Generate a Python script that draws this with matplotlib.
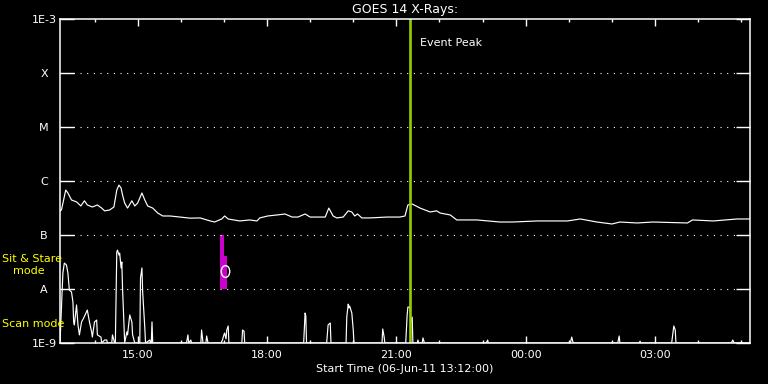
import pandas as pd
import matplotlib
matplotlib.use("Agg")
import matplotlib.pyplot as plt
import matplotlib.dates as mdates
from matplotlib.path import Path
from matplotlib.transforms import Affine2D

# --- data ---
START = pd.Timestamp("2011-06-06 13:12")
SPAN_H = 16

# GOES 14 long channel, minutes after START and flux (W/m^2)
goes_min = [0, 2, 8, 11, 16, 23, 29, 34, 38, 45,
            52, 58, 62, 69, 75, 79, 82, 85, 87, 90,
            94, 100, 104, 108, 114, 118, 122, 129, 136, 143,
            153, 167, 181, 195, 209, 215, 225, 229, 234, 250,
            264, 274, 278, 289, 302, 313, 323, 331, 341, 348,
            362, 369, 374, 380, 385, 394, 401, 406, 410, 414,
            420, 431, 455, 473, 480, 484, 490, 501, 515, 524,
            529, 543, 552, 580, 612, 630, 664, 706, 724, 747,
            768, 779, 803, 825, 873, 880, 909, 942, 960]
goes_flux = [2.8e-7, 2.9e-7, 6.8e-7, 6.0e-7, 4.45e-7, 4.1e-7, 3.45e-7, 4.3e-7, 3.6e-7, 3.3e-7,
             3.6e-7, 3.15e-7, 2.8e-7, 2.9e-7, 3.3e-7, 6.8e-7, 8.4e-7, 7.4e-7, 5.5e-7, 3.9e-7,
             3.15e-7, 4.3e-7, 3.45e-7, 3.9e-7, 6.0e-7, 4.45e-7, 3.45e-7, 3.15e-7, 2.55e-7, 2.25e-7,
             2.25e-7, 2.15e-7, 2.05e-7, 2.07e-7, 1.82e-7, 1.74e-7, 1.98e-7, 2.25e-7, 1.98e-7, 1.82e-7,
             1.90e-7, 1.82e-7, 2.07e-7, 2.25e-7, 2.35e-7, 2.45e-7, 2.15e-7, 2.15e-7, 2.45e-7, 2.15e-7,
             2.15e-7, 2.15e-7, 3.15e-7, 2.25e-7, 2.07e-7, 2.15e-7, 2.8e-7, 2.67e-7, 2.25e-7, 2.45e-7,
             2.07e-7, 2.07e-7, 2.15e-7, 2.15e-7, 2.25e-7, 3.6e-7, 3.75e-7, 3.15e-7, 2.67e-7, 2.8e-7,
             2.55e-7, 2.35e-7, 1.90e-7, 1.90e-7, 1.74e-7, 1.74e-7, 1.82e-7, 1.82e-7, 1.98e-7, 1.74e-7,
             1.60e-7, 1.74e-7, 1.67e-7, 1.74e-7, 1.67e-7, 1.90e-7, 1.82e-7, 1.98e-7, 1.98e-7]

# observation activity trace (arbitrary units, 0..12 over the panel)
scan_min = [0, 1, 4, 6, 9, 11, 13, 16, 18, 19, 20, 22, 23, 25, 27, 30, 33, 36, 38, 41,
            44, 45, 48, 51, 52, 57, 58, 62, 65, 66, 72, 73, 76, 77, 79, 80, 82, 83, 85, 86,
            87, 89, 90, 93, 94, 97, 100, 101, 104, 111, 112, 114, 115, 118, 119, 125, 126, 127, 128, 129,
            176, 178, 179, 182, 183, 196, 197, 199, 203, 204, 206, 224, 226, 228, 229, 231, 232, 234, 235, 253,
            254, 256, 257, 339, 341, 342, 343, 371, 373, 376, 377, 398, 399, 401, 402, 403, 405, 406, 408, 409,
            448, 449, 451, 452, 481, 483, 484, 487, 488, 490, 491, 497, 498, 499, 504, 505, 507, 593, 595, 596,
            710, 712, 714, 776, 778, 779, 806, 807, 808, 851, 853, 854, 856, 857, 934, 936, 938, 960]
scan_val = [0, 0.67, 2.59, 2.96, 2.89, 2.59, 1.96, 1.89, 1.52, 0.78, 0.67, 1.15, 1.41, 0.67, 0.30, 0.78, 0.93, 1.11, 1.22, 0.78,
            0.41, 0.22, 0.78, 0.85, 0.30, 0.22, 0, 0.11, 0.11, 0, 0, 0.30, 0, 0, 3.37, 3.44, 3.26, 3.33, 2.78, 3.0,
            2.04, 0.74, 0, 0.41, 0.30, 1.04, 0.78, 0.30, 0, 0, 2.41, 2.78, 1.89, 0.56, 0, 0.11, 0, 0, 0.78, 0,
            0, 0.30, 0, 0.11, 0, 0, 0.48, 0, 0, 0.26, 0, 0, 0.11, 0.30, 0.37, 0.15, 0.48, 0.63, 0, 0,
            0.48, 0.44, 0, 0, 1.11, 1.0, 0, 0, 0.67, 0.74, 0, 0, 0.96, 1.44, 1.30, 1.37, 1.19, 1.11, 0.48, 0,
            0, 0.52, 0.22, 0, 0, 1.04, 1.33, 1.33, 0.74, 0.96, 0, 0, 0.11, 0, 0, 0.19, 0, 0, 0.11, 0,
            0, 0.22, 0, 0, 0.26, 0, 0, 0.07, 0, 0, 0.41, 0.63, 0.48, 0, 0, 0.11, 0, 0]

# sit & stare block (minutes after START) and its flux range
stare_start = [222, 228]
stare_end = [228, 232]
stare_top = [1e-7, 4.1e-8]
stare_bottom = 1e-8
stare_mark_min = 230
stare_mark_flux = 2.15e-8

peak_min = 487

levels = [1e-9, 1e-8, 1e-7, 1e-6, 1e-5, 1e-4, 1e-3]
level_labels = ["1E-9", "A", "B", "C", "M", "X", "1E-3"]
grid_levels = [1e-8, 1e-7, 1e-6, 1e-5, 1e-4]


def t(minutes):
    return START + pd.to_timedelta(minutes, unit="min")


plt.rcParams['font.family'] = ['DejaVu Sans']
fig = plt.figure(figsize=(7.68, 3.84), dpi=100, facecolor="black")
ax = fig.add_axes([60 / 768, 41 / 384, 690 / 768, 324 / 384])
ax2 = ax.twinx()
ax.set_zorder(ax2.get_zorder() + 1)
ax.patch.set_visible(False)
ax2.patch.set_facecolor("black")

# activity trace underneath
ax2.plot(t(scan_min), scan_val, color="white", lw=0.85)
ax2.set_ylim(0, 12)
ax2.set_yticks([])
for s in ax2.spines.values():
    s.set_visible(False)

ax.set_yscale("log")
ax.set_ylim(1e-9, 1e-3)
ax.set_xlim(t(0), t(SPAN_H * 60))

for lv in grid_levels:
    ax.axhline(lv, color="white", lw=0.8, ls=(0, (1, 5)))

ax.plot(t(goes_min), goes_flux, color="white", lw=0.85)

for s, e, top in zip(stare_start, stare_end, stare_top):
    ax.fill_between([t(s), t(e)], stare_bottom, top, color="#cc00cc", lw=0)
ell = Path.unit_circle().transformed(Affine2D().scale(0.72, 1.0))
ax.plot([t(stare_mark_min)], [stare_mark_flux], marker=ell, ms=8.5,
        mfc="none", mec="white", mew=1.0, ls="none")

ax.axvline(t(peak_min), color="#99cc00", lw=1.9)
ax.annotate("Event Peak", xy=(t(peak_min), 1), xycoords=("data", "axes fraction"),
            xytext=(7.5, -17), textcoords="offset points", color="white",
            fontsize=8, va="center", ha="left")

# axes styling
for s in ax.spines.values():
    s.set_color("white")
    s.set_linewidth(1.1)

ax.yaxis.set_minor_locator(matplotlib.ticker.NullLocator())
ax.set_yticks(levels, level_labels)
ax.tick_params(axis="y", which="major", direction="in", length=10, width=1,
               left=True, right=True, colors="white", labelsize=8, pad=11.5)
for lab in ax.get_yticklabels():
    lab.set_horizontalalignment("center")

ax.xaxis.set_major_locator(mdates.HourLocator(byhour=range(0, 24, 3)))
ax.xaxis.set_minor_locator(mdates.HourLocator())
ax.xaxis.set_major_formatter(mdates.DateFormatter("%H:%M"))
ax.tick_params(axis="x", which="major", direction="in", length=4.8, width=1,
               top=True, bottom=True, colors="white", labelsize=8, pad=5)
ax.tick_params(axis="x", which="minor", direction="in", length=2.4, width=1,
               top=True, bottom=True, colors="white")

ax.set_xlabel("Start Time (06-Jun-11 13:12:00)", color="white", fontsize=8, labelpad=3)
ax.set_title("GOES 14 X-Rays:", color="white", fontsize=9, pad=4)

fig.text(2 / 768, 1 - 259 / 384, "Sit & Stare", color="yellow", fontsize=8, va="center", ha="left")
fig.text(13 / 768, 1 - 271 / 384, "mode", color="yellow", fontsize=8, va="center", ha="left")
fig.text(2 / 768, 1 - 324 / 384, "Scan mode", color="yellow", fontsize=8, va="center", ha="left")

fig.savefig("out.png", dpi=100, facecolor="black")
